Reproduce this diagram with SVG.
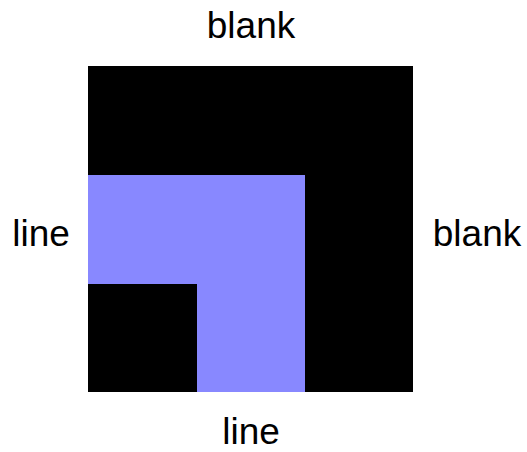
<svg xmlns="http://www.w3.org/2000/svg" width="527" height="452" viewBox="0 0 527 452">
  <style>
    .lbl { font-family: "Liberation Sans", Arial, sans-serif; font-size: 37px; fill: #000; }
    .dark { fill: #000; }
    .path { fill: #8888ff; }
  </style>
  <rect width="527" height="452" fill="#fff"/>
  <g id="tile">
    <rect class="dark" x="88" y="66" width="325" height="326"/>
    <path class="path" d="M88 175 H305 V392 H197 V284 H88 Z"/>
  </g>
  <g id="labels">
    <text class="lbl" x="251" y="38" text-anchor="middle">blank</text>
    <text class="lbl" x="41" y="246" text-anchor="middle">line</text>
    <text class="lbl" x="477" y="246" text-anchor="middle">blank</text>
    <text class="lbl" x="251" y="444" text-anchor="middle">line</text>
  </g>
</svg>
